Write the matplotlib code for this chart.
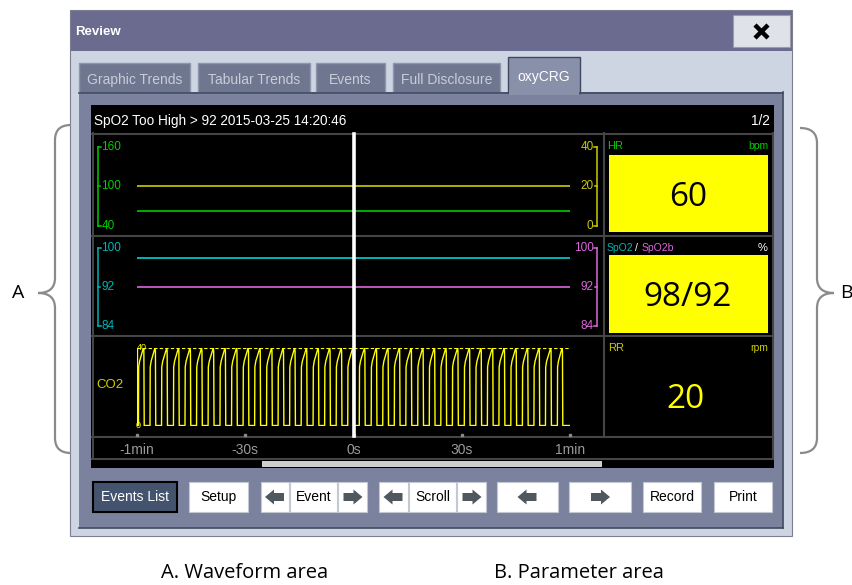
import numpy as np
import matplotlib
matplotlib.use('Agg')
import matplotlib.pyplot as plt
from matplotlib.patches import Rectangle, Polygon, PathPatch
from matplotlib.path import Path
from matplotlib import transforms

# ---- data ----
time_ticks = [-60, -30, 0, 30, 60]
time_labels = ['-1min', '-30s', '0s', '30s', '1min']
trend_t = [-60, 60]
hr_trend = [63, 63]
rr_trend = [20, 20]
spo2_trend = [98, 98]
spo2b_trend = [92, 92]
hr_scale = [40, 100, 160]
rr_scale = [0, 20, 40]
spo2_scale = [84, 92, 100]
co2_scale = [0, 40]
# breath onsets (s) and one breath shape (fraction of breath, mmHg)
breath_starts = [-59.6, -56.4, -53.2, -49.9, -46.7, -43.5, -40.3, -37.0, -33.8,
                 -30.6, -27.4, -24.1, -20.9, -17.7, -14.5, -11.2, -8.0, -4.8,
                 -1.6, 1.6, 4.9, 8.1, 11.3, 14.5, 17.8, 21.0, 24.2, 27.4, 30.7,
                 33.9, 37.1, 40.3, 43.6, 46.8, 50.0, 53.2, 56.5]
breath_end = 59.5
shape_ph = [0.0, 0.02, 0.10, 0.40, 0.44, 0.47, 0.50, 1.0]
shape_co2 = [0, 30, 33, 39, 40, 38, 0, 0]

event_title = 'SpO2 Too High > 92 2015-03-25 14:20:46'
page = '1/2'
hr_value = '60'
spo2_value = '98/92'
rr_value = '20'
tab_names = ['Graphic Trends', 'Tabular Trends', 'Events', 'Full Disclosure', 'oxyCRG']

W, H = 852, 585
UI = ['Liberation Sans', 'DejaVu Sans']
NUM = ['Open Sans', 'DejaVu Sans']

fig = plt.figure(figsize=(W / 100, H / 100), dpi=100, facecolor='white')
ax = fig.add_axes([0, 0, 1, 1])
ax.set_xlim(0, W)
ax.set_ylim(H, 0)
ax.axis('off')


def px_rect(x0, y0, x1, y1):
    return [x0 / W, 1 - y1 / H, (x1 - x0) / W, (y1 - y0) / H]


def box(x0, y0, x1, y1, fc, ec='none', lw=0, z=1):
    ax.add_patch(Rectangle((x0, y0), x1 - x0, y1 - y0, facecolor=fc,
                           edgecolor=ec, linewidth=lw, zorder=z))


def arrow(cx, cy, left=True, col='#4e585e'):
    s = -1 if left else 1
    pts = [(cx + s * 10, cy), (cx + s * 1, cy - 7.5), (cx + s * 1, cy - 4),
           (cx - s * 9, cy - 4), (cx - s * 9, cy + 4), (cx + s * 1, cy + 4),
           (cx + s * 1, cy + 7.5)]
    ax.add_patch(Polygon(pts, closed=True, facecolor=col, edgecolor='none', zorder=5))


def brace(x_end, x_stem, x_tip, y_top, y_mid, y_bot):
    r = 15
    verts = [(x_end, y_top), (x_stem, y_top), (x_stem, y_top + r),
             (x_stem, y_mid - r),
             (x_stem, y_mid), (x_tip, y_mid),
             (x_stem, y_mid), (x_stem, y_mid + r),
             (x_stem, y_bot - r),
             (x_stem, y_bot), (x_end, y_bot)]
    codes = [Path.MOVETO, Path.CURVE3, Path.CURVE3, Path.LINETO,
             Path.CURVE3, Path.CURVE3, Path.CURVE3, Path.CURVE3,
             Path.LINETO, Path.CURVE3, Path.CURVE3]
    ax.add_patch(PathPatch(Path(verts, codes), facecolor='none',
                           edgecolor='#8a8a8a', lw=1.6, zorder=2))


# ---- window frame ----
box(70, 10, 792, 51, '#6a6b8f', z=1)
box(70, 51, 792, 536, '#cdd4e2', z=1)
box(70, 10, 792, 536, 'none', ec='#7d7f90', lw=0.8, z=2)
ax.text(75, 32, 'Review', color='white', fontsize=9.5, fontweight='bold',
        family=UI, va='center', ha='left', zorder=3)
box(733, 15, 790, 47, '#dfe2e8', ec='#9a9cab', lw=0.8, z=3)
ax.plot([755, 768], [25, 38], color='black', lw=3.2, solid_capstyle='butt', zorder=4)
ax.plot([755, 768], [38, 25], color='black', lw=3.2, solid_capstyle='butt', zorder=4)

# tabs
tab_x = [(79, 190), (198, 310), (316, 385), (393, 500), (508, 580)]
for (x0, x1), name in zip(tab_x, tab_names):
    sel = name == 'oxyCRG'
    y0 = 57 if sel else 63
    box(x0, y0, x1, 93, '#8990aa' if sel else '#6f7690',
        ec='#3f4a60' if sel else '#8f95aa', lw=1.0, z=3)
    ax.text((x0 + x1) / 2, (y0 + 93) / 2 + 2, name, family=UI, fontsize=10,
            color='white' if sel else '#c9cdd8', ha='center', va='center', zorder=4)

# main panel
box(79, 92, 783, 528, '#7b829e', z=2)
ax.plot([79, 508], [92.5, 92.5], color='#3f4a60', lw=1.2, zorder=4)
ax.plot([580, 783], [92.5, 92.5], color='#3f4a60', lw=1.2, zorder=4)
ax.plot([783, 783], [92, 528], color='#3f4a60', lw=1.2, zorder=4)
ax.plot([79, 783], [528, 528], color='#3f4a60', lw=1.2, zorder=4)
box(509, 90, 579, 95, '#8990aa', z=5)

# black display
box(91, 105, 774, 468, 'black', z=3)
grid = '#454545'
for yy in [133.5, 236, 336, 436.5]:
    ax.plot([92, 773], [yy, yy], color=grid, lw=1.5, zorder=4)
ax.plot([603.5, 603.5], [133, 436], color=grid, lw=1.5, zorder=4)
ax.plot([92.5, 92.5], [133, 458], color=grid, lw=1.5, zorder=4)
ax.plot([772.5, 772.5], [133, 458], color=grid, lw=1.5, zorder=4)
ax.plot([92, 773], [458.5, 458.5], color=grid, lw=1.5, zorder=4)
box(262, 461, 602, 467, '#cfcfcf', z=4)
ax.text(94, 121, event_title, color='white', fontsize=9.8, family=UI,
        ha='left', va='center', zorder=5)
ax.text(770, 121, page, color='white', fontsize=9.8, family=UI,
        ha='right', va='center', zorder=5)

# ---- waveform axes ----
ax_hr = fig.add_axes(px_rect(137, 146.7, 570, 226))
ax_hr.set_xlim(-60, 60)
ax_hr.set_ylim(40, 160)
ax_rr = ax_hr.twinx()
ax_rr.set_ylim(0, 40)
ax_sp = fig.add_axes(px_rect(137, 248.3, 570, 325.7))
ax_sp.set_xlim(-60, 60)
ax_sp.set_ylim(84, 100)
ax_co2 = fig.add_axes(px_rect(137, 347.5, 570, 425.5))
ax_co2.set_xlim(-60, 60)
ax_co2.set_ylim(0, 40)
for a in [ax_hr, ax_rr, ax_sp, ax_co2]:
    a.axis('off')
    a.patch.set_visible(False)

green, yel, dyel = '#00cc00', '#ffff00', '#cccc00'
cyan, mag = '#00b4b4', '#dd66dd'
ax_hr.plot(trend_t, hr_trend, color=green, lw=1.2)
ax_rr.plot(trend_t, rr_trend, color=dyel, lw=1.2)
ax_sp.plot(trend_t, spo2_trend, color=cyan, lw=1.4)
ax_sp.plot(trend_t, spo2b_trend, color=mag, lw=1.2)


def scale(axis, vals, col, x_line, left=True):
    tr = transforms.blended_transform_factory(ax.transData, axis.transData)
    d = 3 if left else -3
    axis.plot([x_line, x_line], [vals[0], vals[-1]], color=col, lw=1.1,
              transform=tr, clip_on=False)
    for v in vals:
        dd = d if v in (vals[0], vals[-1]) else d * 0.6
        axis.plot([x_line, x_line + dd], [v, v], color=col, lw=1.1,
                  transform=tr, clip_on=False)
        axis.text(x_line + (3.5 if left else -3.5), v, str(v), color=col,
                  fontsize=8.5, family=UI, ha='left' if left else 'right',
                  va='center', transform=tr, clip_on=False)


scale(ax_hr, hr_scale, green, 98, True)
scale(ax_rr, rr_scale, dyel, 597, False)
scale(ax_sp, spo2_scale, cyan, 98, True)
scale(ax_sp, spo2_scale, mag, 597, False)

# CO2 waveform
co2_t, co2_v = [-60.0], [40.0]
for i, t0 in enumerate(breath_starts):
    t1 = breath_starts[i + 1] if i + 1 < len(breath_starts) else breath_end
    for p, v in zip(shape_ph, shape_co2):
        co2_t.append(t0 + p * (t1 - t0))
        co2_v.append(v)
co2_t.append(60)
co2_v.append(0)
ax_co2.plot([-60, -60], [0, 40], color=yel, lw=1.0)
ax_co2.plot(co2_t, co2_v, color=yel, lw=1.0)
for v in co2_scale:
    ax_co2.plot([-60, 60], [v, v], color=yel, lw=0.8, ls=(0, (3, 2)))
trc = transforms.blended_transform_factory(ax.transData, ax_co2.transData)
ax_co2.text(137, 40, '40', color=yel, fontsize=6.5, family=UI, ha='left',
            va='center', transform=trc, clip_on=False)
ax_co2.text(136, 0, '0', color=yel, fontsize=6.5, family=UI, ha='left',
            va='center', transform=trc, clip_on=False)
ax.text(96, 385, 'CO2', color=dyel, fontsize=9.5, family=UI, ha='left',
        va='center', zorder=5)

# time axis labels and cursor
trt = transforms.blended_transform_factory(ax_co2.transData, ax.transData)
for t, lab in zip(time_ticks, time_labels):
    ax_co2.text(t, 450, lab, color='#9a9a9a', fontsize=10, family=UI,
                ha='center', va='center', transform=trt, clip_on=False)
    ax_co2.plot([t], [434.5], marker='s', ms=1.6, color='#8a8a8a',
                transform=trt, clip_on=False)
ax_co2.plot([0, 0], [134, 436], color='white', lw=2.6, transform=trt,
            clip_on=False, zorder=6)

# ---- parameter area ----
ax.text(607, 146, 'HR', color=green, fontsize=8, family=UI, ha='left', va='center', zorder=5)
ax.text(768, 146, 'bpm', color=green, fontsize=7.5, family=UI, ha='right', va='center', zorder=5)
box(609, 155, 768, 232, yel, z=5)
ax.text(688, 197, hr_value, color='black', fontsize=24, family=NUM,
        ha='center', va='center', zorder=6)

ax.text(607, 248, 'SpO2', color=cyan, fontsize=7.5, family=UI, ha='left', va='center', zorder=5)
ax.text(635, 248, '/', color='white', fontsize=7.5, family=UI, ha='left', va='center', zorder=5)
ax.text(642, 248, 'SpO2b', color=mag, fontsize=7.5, family=UI, ha='left', va='center', zorder=5)
ax.text(768, 248, '%', color='white', fontsize=8, family=UI, ha='right', va='center', zorder=5)
box(609, 255, 768, 333, yel, z=5)
ax.text(688, 298, spo2_value, color='black', fontsize=24, family=NUM,
        ha='center', va='center', zorder=6)

ax.text(608, 348, 'RR', color=dyel, fontsize=8, family=UI, ha='left', va='center', zorder=5)
ax.text(768, 348, 'rpm', color=dyel, fontsize=7.5, family=UI, ha='right', va='center', zorder=5)
ax.text(686, 399, rr_value, color=yel, fontsize=24, family=NUM,
        ha='center', va='center', zorder=6)

# ---- buttons ----
by0, by1 = 482, 512
btn_edge = '#c4c8d2'
box(93, by0, 177, by1, '#45546e', ec='black', lw=1.5, z=4)
ax.text(135, 497, 'Events List', color='white', fontsize=10, family=UI,
        ha='center', va='center', zorder=5)
for x0, x1, lab in [(189, 248, 'Setup'), (290, 337, 'Event'), (409, 456, 'Scroll'),
                    (643, 701, 'Record'), (714, 772, 'Print')]:
    box(x0, by0, x1, by1, 'white', ec=btn_edge, lw=0.8, z=4)
    ax.text((x0 + x1) / 2, 497, lab, color='black', fontsize=10, family=UI,
            ha='center', va='center', zorder=5)
for x0, x1, left in [(261, 289, True), (338, 367, False), (379, 408, True),
                     (457, 486, False), (497, 558, True), (569, 631, False)]:
    box(x0, by0, x1, by1, 'white', ec=btn_edge, lw=0.8, z=4)
    arrow((x0 + x1) / 2, 497, left)

# ---- annotations ----
cap = ['Open Sans', 'DejaVu Sans']
brace(71, 55, 38, 125, 293, 453)
brace(800, 817, 834, 128, 293, 453)
ax.text(18, 293, 'A', fontsize=14, family=cap, ha='center', va='center', color='black')
ax.text(846, 293, 'B', fontsize=14, family=cap, ha='center', va='center', color='black')
ax.text(245, 573, 'A. Waveform area', fontsize=14.5, family=cap,
        ha='center', va='center', color='black')
ax.text(579, 573, 'B. Parameter area', fontsize=14.5, family=cap,
        ha='center', va='center', color='black')

fig.savefig('out.png', dpi=100, facecolor='white')
